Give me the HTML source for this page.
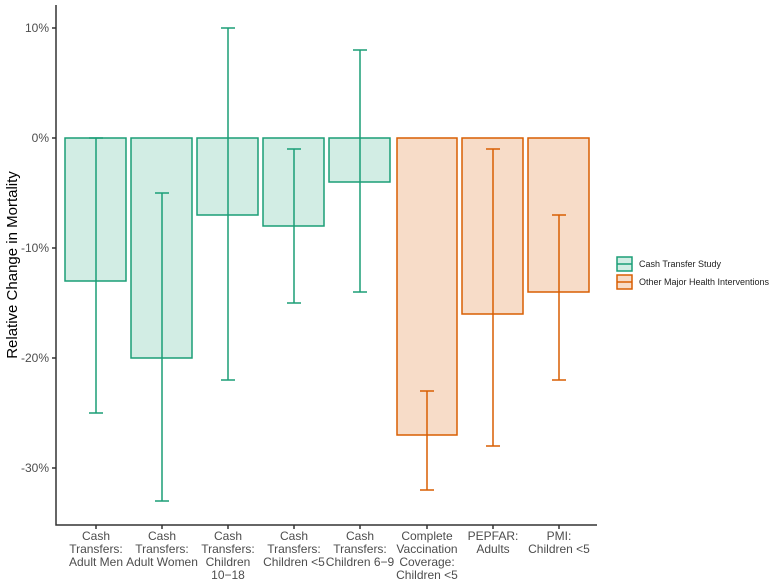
<!DOCTYPE html>
<html><head><style>body{margin:0;background:#fff}svg{display:block}text{font-family:"Liberation Sans",Arial,sans-serif}</style></head><body>
<svg width="770" height="586" xmlns="http://www.w3.org/2000/svg">
<g stroke="#1b9e77" stroke-width="1.5" fill="#d2ede4">
<rect x="65" y="138" width="61" height="143"/>
<rect x="131" y="138" width="61" height="220"/>
<rect x="197" y="138" width="61" height="77"/>
<rect x="263" y="138" width="61" height="88"/>
<rect x="329" y="138" width="61" height="44"/>
</g>
<g stroke="#d95f02" stroke-width="1.5" fill="#f7dcc8">
<rect x="397" y="138" width="60" height="297"/>
<rect x="462" y="138" width="61" height="176"/>
<rect x="528" y="138" width="61" height="154"/>
</g>
<g stroke="#1b9e77" stroke-width="1.5" fill="none">
<path d="M96 138V413M89 138H103M89 413H103"/>
<path d="M162 193V501M155 193H169M155 501H169"/>
<path d="M228 28V380M221 28H235M221 380H235"/>
<path d="M294 149V303M287 149H301M287 303H301"/>
<path d="M360 50V292M353 50H367M353 292H367"/>
</g>
<g stroke="#d95f02" stroke-width="1.5" fill="none">
<path d="M427 391V490M420 391H434M420 490H434"/>
<path d="M493 149V446M486 149H500M486 446H500"/>
<path d="M559 215V380M552 215H566M552 380H566"/>
</g>
<g stroke="#333" stroke-width="1.5" fill="none">
<path d="M56 5V525H597"/>
<path d="M52 28H56M52 138H56M52 248H56M52 358H56M52 468H56"/>
<path d="M96 525v4M162 525v4M228 525v4M294 525v4M360 525v4M427 525v4M493 525v4M559 525v4"/>
</g>
<g font-size="12" fill="#4d4d4d" text-anchor="end">
<text x="49" y="32">10%</text><text x="49" y="142">0%</text><text x="49" y="252">-10%</text><text x="49" y="362">-20%</text><text x="49" y="472">-30%</text>
</g>
<text transform="translate(17,265) rotate(-90)" font-size="15" text-anchor="middle" fill="#000">Relative Change in Mortality</text>
<g font-size="12" fill="#4d4d4d" text-anchor="middle">
<text x="96" y="540">Cash</text><text x="96" y="553">Transfers:</text><text x="96" y="566">Adult Men</text>
<text x="162" y="540">Cash</text><text x="162" y="553">Transfers:</text><text x="162" y="566">Adult Women</text>
<text x="228" y="540">Cash</text><text x="228" y="553">Transfers:</text><text x="228" y="566">Children</text><text x="228" y="579">10−18</text>
<text x="294" y="540">Cash</text><text x="294" y="553">Transfers:</text><text x="294" y="566">Children &lt;5</text>
<text x="360" y="540">Cash</text><text x="360" y="553">Transfers:</text><text x="360" y="566">Children 6−9</text>
<text x="427" y="540">Complete</text><text x="427" y="553">Vaccination</text><text x="427" y="566">Coverage:</text><text x="427" y="579">Children &lt;5</text>
<text x="493" y="540">PEPFAR:</text><text x="493" y="553">Adults</text>
<text x="559" y="540">PMI:</text><text x="559" y="553">Children &lt;5</text>
</g>
<rect x="617" y="257" width="15" height="14" fill="#d2ede4" stroke="#1b9e77" stroke-width="1.5"/>
<path d="M617 264H632" stroke="#1b9e77" stroke-width="1.5"/>
<rect x="617" y="275" width="15" height="14" fill="#f7dcc8" stroke="#d95f02" stroke-width="1.5"/>
<path d="M617 282H632" stroke="#d95f02" stroke-width="1.5"/>
<g font-size="9" fill="#222"><text x="639" y="267">Cash Transfer Study</text><text x="639" y="285">Other Major Health Interventions</text></g>
</svg>
</body></html>
